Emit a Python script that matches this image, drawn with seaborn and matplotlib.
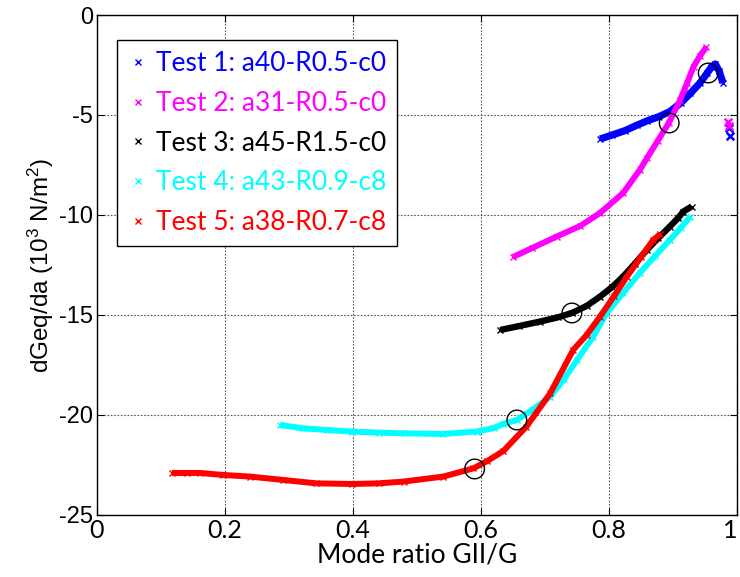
import matplotlib
matplotlib.use("Agg")
import matplotlib.pyplot as plt
from matplotlib.lines import Line2D
import seaborn as sns
import pandas as pd

# ---- data ----
t1_x = [0.786, 0.805, 0.825, 0.843, 0.859, 0.878, 0.895, 0.912, 0.927, 0.942, 0.953, 0.960, 0.966, 0.972, 0.978]
t1_y = [-6.20, -6.00, -5.78, -5.52, -5.30, -5.08, -4.83, -4.40, -3.92, -3.40, -2.92, -2.60, -2.45, -2.80, -3.40]
t1_out_x = [0.988, 0.989]
t1_out_y = [-5.65, -6.05]

t2_x = [0.650, 0.680, 0.718, 0.755, 0.786, 0.822, 0.848, 0.859, 0.876, 0.893, 0.911, 0.922, 0.932, 0.942, 0.952]
t2_y = [-12.10, -11.65, -11.08, -10.55, -9.90, -8.90, -7.75, -7.17, -6.30, -5.42, -4.25, -3.40, -2.58, -2.05, -1.60]
t2_out_x = [0.986, 0.987]
t2_out_y = [-5.35, -5.55]

t3_x = [0.630, 0.660, 0.692, 0.720, 0.742, 0.765, 0.786, 0.805, 0.822, 0.840, 0.859, 0.877, 0.895, 0.908, 0.916, 0.929]
t3_y = [-15.75, -15.55, -15.33, -15.12, -14.90, -14.55, -14.08, -13.60, -13.08, -12.45, -11.75, -11.15, -10.58, -10.15, -9.83, -9.58]

t4_x = [0.286, 0.322, 0.360, 0.398, 0.440, 0.479, 0.541, 0.593, 0.620, 0.635, 0.656, 0.680, 0.708, 0.730, 0.750, 0.775, 0.796, 0.822, 0.848, 0.872, 0.895, 0.912, 0.927]
t4_y = [-20.50, -20.67, -20.75, -20.83, -20.88, -20.92, -20.95, -20.83, -20.65, -20.45, -20.25, -19.75, -19.08, -18.20, -17.25, -16.10, -14.92, -13.90, -12.90, -12.05, -11.25, -10.65, -10.08]

t5_x = [0.117, 0.140, 0.161, 0.197, 0.239, 0.291, 0.343, 0.398, 0.440, 0.479, 0.541, 0.588, 0.610, 0.635, 0.671, 0.708, 0.744, 0.765, 0.786, 0.808, 0.828, 0.850, 0.869, 0.880]
t5_y = [-22.90, -22.90, -22.90, -23.00, -23.08, -23.25, -23.42, -23.45, -23.42, -23.33, -23.08, -22.67, -22.30, -21.80, -20.58, -18.92, -16.75, -16.00, -15.08, -14.05, -13.08, -12.10, -11.25, -10.95]

circle_x = [0.955, 0.894, 0.742, 0.656, 0.590]
circle_y = [-2.90, -5.40, -14.90, -20.25, -22.70]

labels = ["Test 1: a40-R0.5-c0", "Test 2: a31-R0.5-c0", "Test 3: a45-R1.5-c0",
          "Test 4: a43-R0.9-c8", "Test 5: a38-R0.7-c8"]
colors = ["#0000ff", "#ff00ff", "#000000", "#00ffff", "#ff0000"]
band_widths = [5.2, 4.3, 4.6, 4.3, 4.3]

x_ticks = [0, 0.2, 0.4, 0.6, 0.8, 1]
x_ticklabels = ["0", "0.2", "0.4", "0.6", "0.8", "1"]
y_ticks = [-25, -20, -15, -10, -5, 0]
y_ticklabels = ["-25", "-20", "-15", "-10", "-5", "0"]

# ---- plotting ----
sns.set_theme(style="white")
plt.rcParams["mathtext.fontset"] = "custom"
plt.rcParams["mathtext.rm"] = "Liberation Sans"
plt.rcParams["mathtext.it"] = "Liberation Sans"
fig = plt.figure(figsize=(7.40, 5.77), dpi=100)
ax = fig.add_axes([0.131, 0.1075, 0.865, 0.8665])

series = [(t1_x, t1_y), (t2_x, t2_y), (t3_x, t3_y), (t4_x, t4_y), (t5_x, t5_y)]
for (xs, ys), c, w in zip(series, colors, band_widths):
    df = pd.DataFrame({"x": xs, "y": ys})
    sns.lineplot(data=df, x="x", y="y", ax=ax, sort=False, color=c, lw=w,
                 marker="x", markersize=4.5, markeredgewidth=1.0, markeredgecolor=c,
                 solid_capstyle="butt", solid_joinstyle="round", zorder=3, legend=False)

sns.scatterplot(x=t1_out_x, y=t1_out_y, ax=ax, marker="x", color=colors[0], s=30, linewidth=1.8, zorder=3)
sns.scatterplot(x=t2_out_x, y=t2_out_y, ax=ax, marker="x", color=colors[1], s=30, linewidth=1.8, zorder=3)

sns.scatterplot(x=circle_x, y=circle_y, ax=ax, marker="o", s=200, facecolors="none",
                edgecolor="black", linewidth=1.0, zorder=5)

ax.set_xlim(0, 1)
ax.set_ylim(-25, 0)
ax.set_xticks(x_ticks)
ax.set_xticklabels(x_ticklabels, fontfamily="Lato", fontsize=18)
xl = ax.get_xticklabels()
xl[-1].set_horizontalalignment("right")
ax.set_yticks(y_ticks)
ax.set_yticklabels(y_ticklabels, fontfamily="Liberation Sans", fontsize=17)
ax.tick_params(direction="in", length=5, width=0.8, color="black", top=True, right=True,
               bottom=True, left=True, pad=3, labelcolor="black")
ax.set_xlabel("Mode ratio GII/G", fontfamily="Lato", fontsize=19, labelpad=0, color="black")
ax.set_ylabel("dGeq/da (10$^3$ N/m$^2$)", fontfamily="Liberation Sans", fontsize=17.5,
              labelpad=2, color="black")

ax.grid(True, color="#555555", linestyle=(0, (1.5, 1.5)), linewidth=0.8, zorder=0)
ax.set_axisbelow(True)
for sp in ax.spines.values():
    sp.set_color("black")
    sp.set_linewidth(1.0)

handles = [Line2D([], [], linestyle="none", marker="x", color=c, markersize=4, markeredgewidth=1.0)
           for c in colors]
leg = ax.legend(handles, labels, loc="upper left", bbox_to_anchor=(0.031, 0.95),
                prop={"family": "Lato", "size": 19}, labelcolor=colors,
                frameon=True, fancybox=False, edgecolor="black", framealpha=1,
                handlelength=0.8, handletextpad=0.25, borderpad=0.42, labelspacing=0.56,
                borderaxespad=0)
leg.get_frame().set_linewidth(1.0)

fig.savefig("out.png", dpi=100)
